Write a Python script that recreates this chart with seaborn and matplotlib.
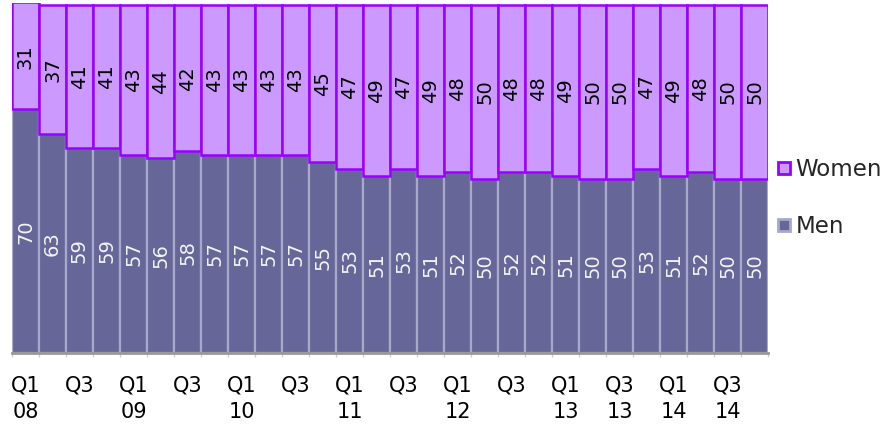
import matplotlib
matplotlib.use("Agg")
import matplotlib.pyplot as plt
from matplotlib.lines import Line2D
import numpy as np
import pandas as pd
import seaborn as sns

# Quarterly share of men and women (%), Q1 2008 - Q4 2014
quarters = [f"Q{q} {y:02d}" for y in range(8, 15) for q in range(1, 5)]
men = [70, 63, 59, 59, 57, 56, 58, 57, 57, 57, 57, 55, 53, 51,
       53, 51, 52, 50, 52, 52, 51, 50, 50, 53, 51, 52, 50, 50]
women = [31, 37, 41, 41, 43, 44, 42, 43, 43, 43, 43, 45, 47, 49,
         47, 49, 48, 50, 48, 48, 49, 50, 50, 47, 49, 48, 50, 50]
tick_labels = ["Q1\n08", "Q3", "Q1\n09", "Q3", "Q1\n10", "Q3", "Q1\n11",
               "Q3", "Q1\n12", "Q3", "Q1\n13", "Q3\n13", "Q1\n14", "Q3\n14"]

MEN_FILL, MEN_EDGE = "#666699", "#A8A8CA"
WOMEN_FILL, WOMEN_EDGE = "#CC99FF", "#9900FF"

sns.set_theme(style="white")
plt.rcParams["font.family"] = ["DejaVu Sans"]

df = pd.DataFrame({"quarter": quarters, "men": men, "women": women})

fig = plt.figure(figsize=(8.89, 4.28), dpi=100)
ax = fig.add_axes([12 / 889, 75 / 428, 756 / 889, 350 / 428])

sns.barplot(data=df, x="quarter", y="men", color=MEN_FILL, saturation=1,
            width=1.0, edgecolor=MEN_EDGE, linewidth=1.6, ax=ax)
sns.barplot(data=df, x="quarter", y="women", bottom=df["men"].to_numpy(),
            color=WOMEN_FILL, saturation=1, width=1.0,
            edgecolor=WOMEN_EDGE, linewidth=1.8, ax=ax)

men_bars, women_bars = ax.containers[0], ax.containers[1]
ax.bar_label(men_bars, labels=[str(v) for v in men], label_type="center",
             rotation=90, color="#F4F4F4", fontsize=14)
ax.bar_label(women_bars, labels=[str(v) for v in women], label_type="center",
             rotation=90, color="black", fontsize=14)

ax.set_xlim(-0.5, len(quarters) - 0.5)
ax.set_ylim(0, 100.6)
ax.set_xlabel("")
ax.set_ylabel("")
ax.set_yticks([])
ax.set_xticks(range(0, len(quarters), 2))
ax.set_xticklabels(tick_labels, fontsize=15, linespacing=1.45, color="black")
ax.set_xticks(np.arange(-0.5, len(quarters), 1), minor=True)
ax.tick_params(axis="x", which="major", length=0, pad=16)
ax.tick_params(axis="x", which="minor", length=3, color="#D0D0D0", width=1,
               bottom=True)

for side in ["top", "left", "right"]:
    ax.spines[side].set_visible(False)
ax.spines["bottom"].set_color("#999999")
ax.spines["bottom"].set_linewidth(2)

handles = [
    Line2D([], [], linestyle="none", marker="s", markersize=9,
           markerfacecolor=WOMEN_FILL, markeredgecolor=WOMEN_EDGE,
           markeredgewidth=2, label="Women"),
    Line2D([], [], linestyle="none", marker="s", markersize=9,
           markerfacecolor=MEN_FILL, markeredgecolor=MEN_EDGE,
           markeredgewidth=2, label="Men"),
]
fig.legend(handles=handles, loc="center left",
           bbox_to_anchor=(776 / 889, 1 - 198 / 428), frameon=False,
           fontsize=16.5, labelspacing=1.45, handletextpad=0.15,
           handlelength=0.7, borderpad=0, borderaxespad=0)

fig.savefig("out.png", dpi=100)
